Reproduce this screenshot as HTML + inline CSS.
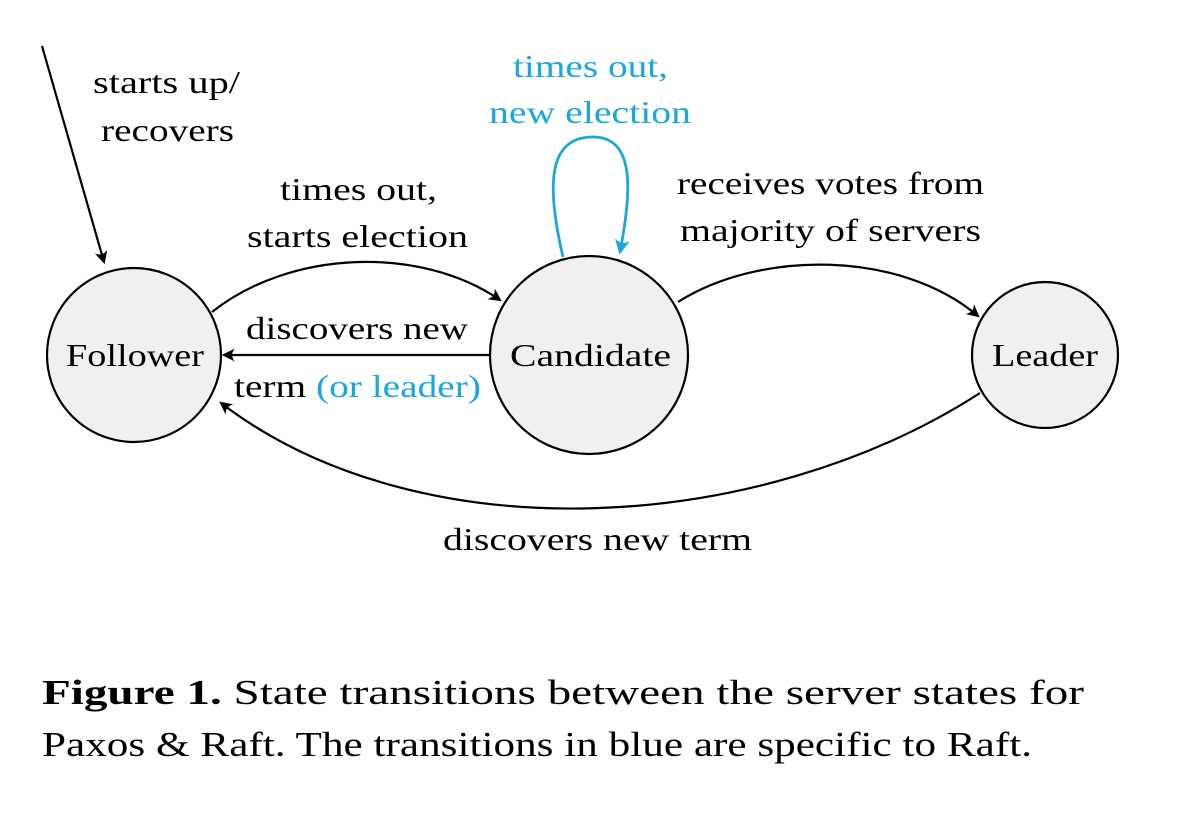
<!DOCTYPE html>
<html><head><meta charset="utf-8"><style>
html,body{margin:0;padding:0;background:#fff;}
svg{display:block}
text{font-family:"Liberation Serif",serif;}
</style></head><body>
<svg width="1178" height="814" viewBox="0 0 1178 814" xmlns="http://www.w3.org/2000/svg">
<defs>
<marker id="a" viewBox="0 0 12 12" refX="10" refY="6" markerWidth="13" markerHeight="13" markerUnits="userSpaceOnUse" orient="auto">
<path d="M0,0 Q5,6 0,12 L12,6 Z" fill="#000"/>
</marker>
<marker id="b" viewBox="0 0 12 12" refX="10" refY="6" markerWidth="15" markerHeight="15" markerUnits="userSpaceOnUse" orient="auto">
<path d="M0,0 Q5,6 0,12 L12,6 Z" fill="#1aa7dd"/>
</marker>
</defs>
<g fill="none" stroke="#000" stroke-width="2.2">
<line x1="42" y1="46" x2="104" y2="262" marker-end="url(#a)"/>
<path d="M212,312 C290,250 420,245 500,300" marker-end="url(#a)"/>
<line x1="490" y1="355" x2="224" y2="355" marker-end="url(#a)"/>
<path d="M678,302 C760,250 900,250 978,316" marker-end="url(#a)"/>
<path d="M980,393 C760,535 420,555 221,403" marker-end="url(#a)"/>
</g>
<path d="M563,257 C545,180 550,137 593,137 C635,137 632,190 620,252" fill="none" stroke="#1aa7dd" stroke-width="2.8" marker-end="url(#b)"/>
<g fill="#f0f0f0" stroke="#000" stroke-width="2.2">
<circle cx="134" cy="355" r="87"/>
<circle cx="589" cy="355" r="99"/>
<circle cx="1045" cy="355" r="73"/>
</g>
<g font-size="32" fill="#000" lengthAdjust="spacingAndGlyphs">
<text x="66" y="366" textLength="138" lengthAdjust="spacingAndGlyphs">Follower</text>
<text x="510" y="366" textLength="161" lengthAdjust="spacingAndGlyphs">Candidate</text>
<text x="992" y="366" textLength="106" lengthAdjust="spacingAndGlyphs">Leader</text>
<text x="93" y="93" textLength="147" lengthAdjust="spacingAndGlyphs">starts up/</text>
<text x="101" y="141" textLength="133" lengthAdjust="spacingAndGlyphs">recovers</text>
<text x="280" y="200" textLength="157" lengthAdjust="spacingAndGlyphs">times out,</text>
<text x="247" y="247" textLength="221" lengthAdjust="spacingAndGlyphs">starts election</text>
<text x="246" y="339" textLength="222" lengthAdjust="spacingAndGlyphs">discovers new</text>
<text x="677" y="194" textLength="307" lengthAdjust="spacingAndGlyphs">receives votes from</text>
<text x="680" y="241" textLength="301" lengthAdjust="spacingAndGlyphs">majority of servers</text>
<text x="443" y="550" textLength="309" lengthAdjust="spacingAndGlyphs">discovers new term</text>
<text x="234" y="397" textLength="247" lengthAdjust="spacingAndGlyphs">term <tspan fill="#1aa7dd">(or leader)</tspan></text>
</g>
<g font-size="32" fill="#1aa7dd">
<text x="513" y="77" textLength="155" lengthAdjust="spacingAndGlyphs">times out,</text>
<text x="489" y="123" textLength="202" lengthAdjust="spacingAndGlyphs">new election</text>
</g>
<text x="42" y="704" font-size="35" textLength="1042" lengthAdjust="spacingAndGlyphs"><tspan font-weight="bold">Figure 1.</tspan> State transitions between the server states for</text>
<text x="42" y="756" font-size="35" textLength="990" lengthAdjust="spacingAndGlyphs">Paxos &amp; Raft. The transitions in blue are specific to Raft.</text>
</svg>
</body></html>
